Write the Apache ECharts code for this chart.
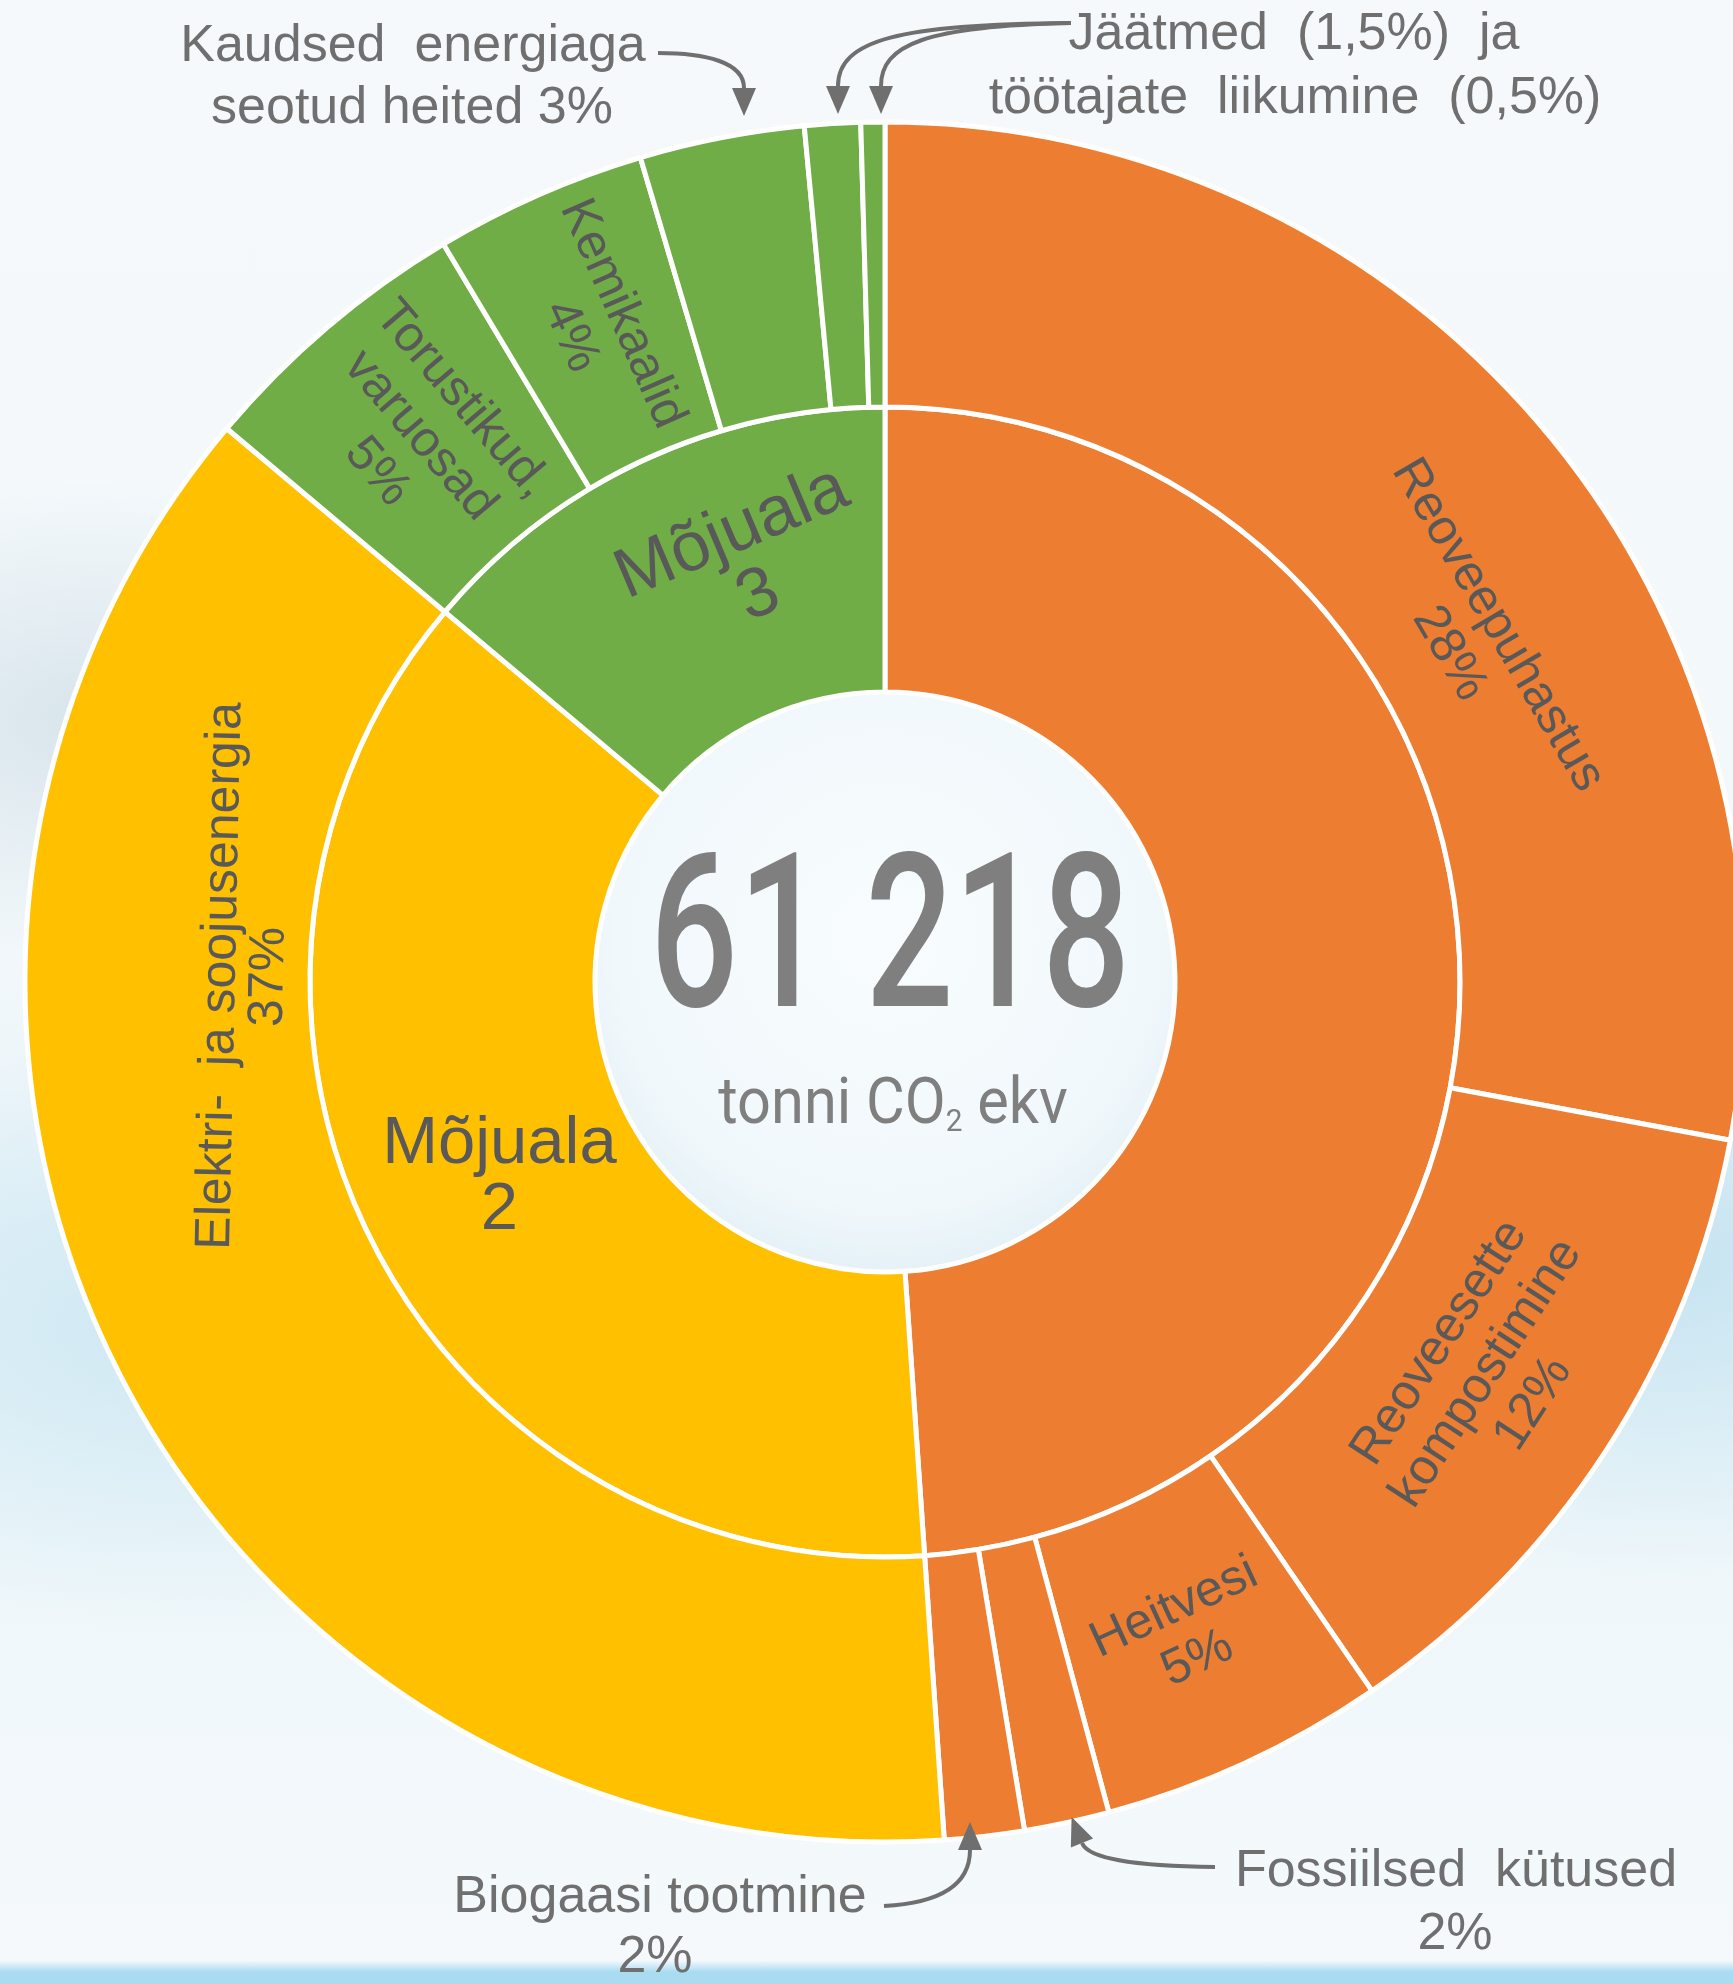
<!DOCTYPE html>
<html>
<head>
<meta charset="utf-8">
<script src="https://cdn.jsdelivr.net/npm/echarts@6/dist/echarts.min.js"></script>
<style>
html, body { margin: 0; padding: 0; }
body {
  width: 1733px; height: 1984px; overflow: hidden;
  background:
    radial-gradient(ellipse 380px 240px at 90px 720px, rgba(175,200,212,0.40), rgba(175,200,212,0) 100%),
    radial-gradient(ellipse 600px 300px at 200px 1330px, rgba(190,225,240,0.65), rgba(190,225,240,0) 100%),
    radial-gradient(ellipse 480px 320px at 1660px 1260px, rgba(185,222,238,0.75), rgba(185,222,238,0) 100%),
    linear-gradient(180deg, #f5f9fc 0%, #f3f8fb 45%, #eaf4f9 62%, #eff7fa 80%, #f5f9fc 98.8%, #a9dbf1 99.4%, #a9dbf1 100%);
}
#chart { width: 1733px; height: 1984px; }
</style>
</head>
<body>
<div id="chart"></div>
<script>
// ---------------- data ----------------
const groupNames  = ['Mõjuala 1', 'Mõjuala 2', 'Mõjuala 3'];
const groupLabels = ['', 'Mõjuala\n2', 'Mõjuala\n3'];

const scope1Names  = ['Reoveepuhastus', 'Reoveesette kompostimine', 'Heitvesi', 'Fossiilsed kütused', 'Biogaasi tootmine'];
const scope1Values = [28, 12.5, 5.4, 1.6, 1.5];
const scope1Labels = ['Reoveepuhastus\n28%', 'Reoveesette\nkompostimine\n12%', 'Heitvesi\n5%', '', ''];

const scope2Names  = ['Elektri- ja soojusenergia'];
const scope2Values = [37.3];
const scope2Labels = ['Elektri-  ja soojusenergia\n37%'];

const scope3Names  = ['Torustikud, varuosad', 'Kemikaalid', 'Kaudsed energiaga seotud heited', 'Jäätmed', 'Töötajate liikumine'];
const scope3Values = [5.3, 4.0, 3.1, 1.05, 0.45];
const scope3Labels = ['Torustikud,\nvaruosad\n5%', 'Kemikaalid\n4%', '', '', ''];

const totalValue = '61 218';
const totalUnitParts = ['tonni CO', '2', ' ekv'];

const calloutKaudsed  = ['Kaudsed  energiaga', 'seotud heited 3%'];
const calloutJaatmed  = ['Jäätmed  (1,5%)  ja', 'töötajate  liikumine  (0,5%)'];
const calloutBiogaas  = ['Biogaasi tootmine', '2%'];
const calloutFossiil  = ['Fossiilsed  kütused', '2%'];

// ---------------- layout / style ----------------
const CX = 885, CY = 982;
const R_HOLE = 290, R_MID = 575, R_OUT = 860;
const COLORS = ['#ED7D31', '#FFC000', '#70AD47'];
const LABEL_COLOR = '#595959';
const NOTE_COLOR = '#6f6f6f';
const FONT = '"Liberation Sans", Arial, sans-serif';

// labels placed away from the slice middle in the reference:
// name -> [clock angle deg, radius, rotation deg (ccw) or null = tangential, font size, line height]
const labelPlacement = {
  'Reoveepuhastus': [59.8, 681, null, 50, 56],
  'Elektri- ja soojusenergia': [270.5, 640, 88.8, 50, 48],
  'Mõjuala 3': [341.5, 440, 23, 70, 68]
};

function ringItem(name, value, label, color, rotate) {
  const moved = labelPlacement[name] !== undefined;
  const item = {
    name: name,
    itemStyle: { color: color },
    label: { show: label !== '' && !moved, rotate: rotate, formatter: label || ' ' }
  };
  if (value !== null) item.value = value;
  return item;
}
function children(names, values, labels, color, rotate) {
  return names.map((n, i) => ringItem(n, values[i], labels[i], color, rotate));
}

const scopeChildren = [
  children(scope1Names, scope1Values, scope1Labels, COLORS[0], 'tangential'),
  children(scope2Names, scope2Values, scope2Labels, COLORS[1], 'tangential'),
  children(scope3Names, scope3Values, scope3Labels, COLORS[2], 'radial')
];
const seriesData = groupNames.map((g, i) => {
  const it = ringItem(g, null, groupLabels[i], COLORS[i], i === 1 ? 0 : 'tangential');
  it.children = scopeChildren[i];
  return it;
});

// graphic helpers
function polar(angleDeg, r) {
  const a = angleDeg * Math.PI / 180;
  return [CX + r * Math.sin(a), CY - r * Math.cos(a)];
}
function tangentialRotation(angleDeg) {
  let rot = -angleDeg;
  while (rot <= -180) rot += 360;
  while (rot > 180) rot -= 360;
  if (rot < -90) rot += 180;
  if (rot > 90) rot -= 180;
  return rot * Math.PI / 180;
}

const graphics = [];

// centre hole fill
graphics.push({
  type: 'circle', shape: { cx: CX, cy: CY, r: R_HOLE }, z: 0,
  style: { fill: new echarts.graphic.RadialGradient(0.5, 0.42, 0.62, [
    { offset: 0, color: '#f8fcfe' }, { offset: 0.75, color: '#f1f8fb' }, { offset: 1, color: '#e0eff6' }]) }
});

// displaced ring labels
const allNames = scope1Names.concat(scope2Names, scope3Names, groupNames);
const allLabels = scope1Labels.concat(scope2Labels, scope3Labels, groupLabels);
Object.keys(labelPlacement).forEach(n => {
  const [ang, r, rotDeg, fs, lh] = labelPlacement[n];
  const p = polar(ang, r);
  graphics.push({
    type: 'text', x: p[0], y: p[1], z: 100,
    rotation: rotDeg === null ? tangentialRotation(ang) : rotDeg * Math.PI / 180,
    style: { text: allLabels[allNames.indexOf(n)], font: fs + 'px ' + FONT, fill: LABEL_COLOR,
             align: 'center', verticalAlign: 'middle', lineHeight: lh }
  });
});

// centre total
graphics.push({
  type: 'text', x: 890, y: 952, scaleX: 0.72, z: 100,
  style: { text: totalValue, font: '500 216px Roboto, "Liberation Sans", sans-serif', fill: '#7f7f7f',
           align: 'center', verticalAlign: 'middle' }
});
graphics.push({
  type: 'text', x: 893, y: 1104, scaleX: 0.93, z: 100,
  style: {
    text: '{a|' + totalUnitParts[0] + '}{b|' + totalUnitParts[1] + '}{a|' + totalUnitParts[2] + '}',
    align: 'center', verticalAlign: 'middle',
    rich: {
      a: { font: '64px Roboto, sans-serif', fill: '#7f7f7f', verticalAlign: 'bottom', lineHeight: 70 },
      b: { font: '32px Roboto, sans-serif', fill: '#7f7f7f', verticalAlign: 'bottom', lineHeight: 56 }
    }
  }
});

// callout texts
function note(lines, x, ys) {
  lines.forEach((t, i) => graphics.push({
    type: 'text', x: x[i], y: ys[i], z: 100,
    style: { text: t, font: '52px ' + FONT, fill: NOTE_COLOR, align: 'center', verticalAlign: 'middle' }
  }));
}
note(calloutKaudsed, [413, 412], [47, 109]);
note(calloutJaatmed, [1294, 1295], [35, 99]);
note(calloutBiogaas, [660, 655], [1898, 1958]);
note(calloutFossiil, [1456, 1455], [1872, 1935]);

// arrows: cubic curve + head computed from end tangent
function arrow(p0, c1, c2, p3) {
  graphics.push({
    type: 'bezierCurve', z: 100,
    shape: { x1: p0[0], y1: p0[1], cpx1: c1[0], cpy1: c1[1], cpx2: c2[0], cpy2: c2[1], x2: p3[0], y2: p3[1] },
    style: { stroke: NOTE_COLOR, lineWidth: 4, fill: null }
  });
  let dx = p3[0] - c2[0], dy = p3[1] - c2[1];
  const L = Math.hypot(dx, dy); dx /= L; dy /= L;
  const len = 28, w = 12;
  const tip = [p3[0] + dx * len, p3[1] + dy * len];
  const a = [p3[0] - dy * w, p3[1] + dx * w];
  const b = [p3[0] + dy * w, p3[1] - dx * w];
  graphics.push({ type: 'polygon', z: 100, shape: { points: [a, tip, b] }, style: { fill: NOTE_COLOR } });
}
arrow([658, 53], [705, 53], [744, 62], [744, 88]);
arrow([1071, 23], [900, 24], [838, 40], [838, 86]);
arrow([1071, 23], [925, 26], [881, 45], [881, 86]);
arrow([884, 1906], [940, 1903], [970, 1885], [970, 1850]);
arrow([1215, 1867], [1130, 1866], [1088, 1858], [1082, 1843]);

const chart = echarts.init(document.getElementById('chart'), null, { renderer: 'canvas' });
chart.setOption({
  backgroundColor: 'transparent',
  animation: false,
  series: [{
    type: 'sunburst',
    center: [CX, CY],
    radius: [R_HOLE, R_OUT],
    sort: null,
    startAngle: 90,
    clockwise: true,
    nodeClick: false,
    z: 2,
    itemStyle: { borderColor: '#ffffff', borderWidth: 5 },
    label: { color: LABEL_COLOR, fontFamily: FONT, fontSize: 50, lineHeight: 56 },
    emphasis: { disabled: true },
    levels: [
      {},
      { r0: R_HOLE, r: R_MID, label: { fontSize: 67, lineHeight: 66 } },
      { r0: R_MID, r: R_OUT, label: { fontSize: 50, lineHeight: 56 } }
    ],
    data: seriesData
  }],
  graphic: { elements: graphics }
});
</script>
</body>
</html>
